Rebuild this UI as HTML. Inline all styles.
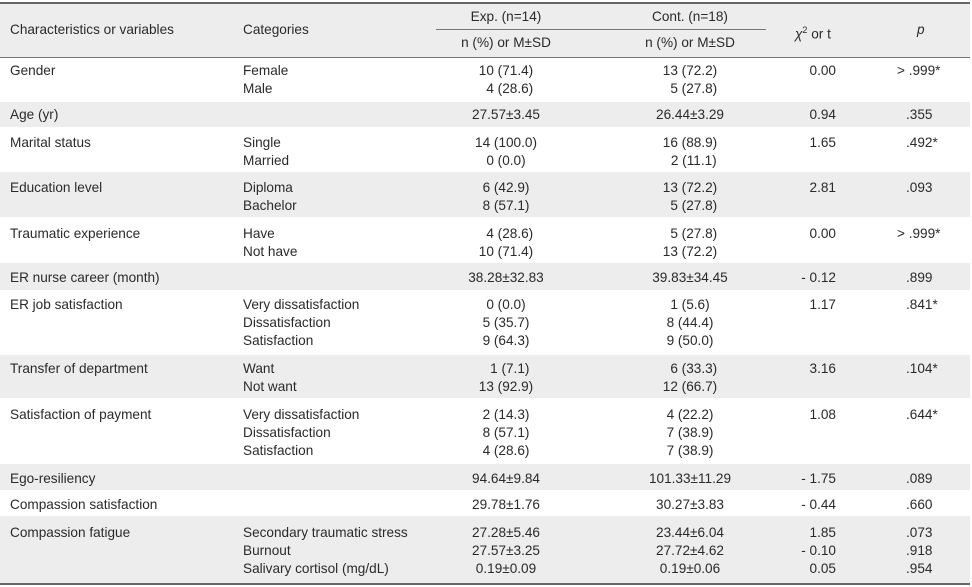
<!DOCTYPE html>
<html><head><meta charset="utf-8"><style>
body{margin:0;background:#fff;}
#t{position:relative;width:972px;height:587px;font-family:"Liberation Sans",sans-serif;font-size:13.6px;color:#2a2a2a;overflow:hidden;}
.bg{position:absolute;left:0;width:970px;background:#ededed;}
.ln{position:absolute;height:0;}
.c{position:absolute;line-height:18px;white-space:pre;}
.l1{left:10px}.l2{left:243px}
.e{left:456px;width:100px;text-align:center}
.n{left:640px;width:100px;text-align:center}
.x{left:760px;width:76px;text-align:right}
.p{left:906px}
</style></head><body>
<div id="t">
<div class="bg" style="top:3px;height:54px"></div>
<div class="bg" style="top:102px;height:25px"></div>
<div class="bg" style="top:172px;height:45px"></div>
<div class="bg" style="top:263px;height:27px"></div>
<div class="bg" style="top:355px;height:43px"></div>
<div class="bg" style="top:464px;height:26px"></div>
<div class="bg" style="top:516px;height:67px"></div>
<div class="ln" style="top:2px;left:0;width:970px;border-top:2px solid #666"></div>
<div class="ln" style="top:29px;left:436px;width:330px;border-top:1px solid #777"></div>
<div class="ln" style="top:57px;left:0;width:970px;border-top:1px solid #777"></div>
<div class="ln" style="top:583px;left:0;width:970px;border-top:2px solid #666"></div>

<div class="c l1" style="top:21px">Characteristics or variables</div>
<div class="c l2" style="top:21px">Categories</div>
<div class="c e" style="top:8px">Exp. (n=14)</div>
<div class="c n" style="top:8px">Cont. (n=18)</div>
<div class="c e" style="top:34px">n (%) or M±SD</div>
<div class="c n" style="top:34px">n (%) or M±SD</div>
<div class="c" style="top:21px;left:795px"><i>χ</i><sup style="font-size:9px">2</sup> or t</div>
<div class="c" style="top:21px;left:917px;font-style:italic">p</div>

<div class="c l1" style="top:62px">Gender</div>
<div class="c l2" style="top:62px">Female
Male</div>
<div class="c e" style="top:62px">10 (71.4)
  4 (28.6)</div>
<div class="c n" style="top:62px">13 (72.2)
  5 (27.8)</div>
<div class="c x" style="top:62px">0.00</div>
<div class="c p" style="top:62px;left:897px">&gt; .999*</div>

<div class="c l1" style="top:106px">Age (yr)</div>
<div class="c e" style="top:106px">27.57±3.45</div>
<div class="c n" style="top:106px">26.44±3.29</div>
<div class="c x" style="top:106px">0.94</div>
<div class="c p" style="top:106px">.355</div>

<div class="c l1" style="top:134px">Marital status</div>
<div class="c l2" style="top:134px">Single
Married</div>
<div class="c e" style="top:134px">14 (100.0)
0 (0.0)</div>
<div class="c n" style="top:134px">16 (88.9)
  2 (11.1)</div>
<div class="c x" style="top:134px">1.65</div>
<div class="c p" style="top:134px">.492*</div>

<div class="c l1" style="top:179px">Education level</div>
<div class="c l2" style="top:179px">Diploma
Bachelor</div>
<div class="c e" style="top:179px">6 (42.9)
8 (57.1)</div>
<div class="c n" style="top:179px">13 (72.2)
  5 (27.8)</div>
<div class="c x" style="top:179px">2.81</div>
<div class="c p" style="top:179px">.093</div>

<div class="c l1" style="top:225px">Traumatic experience</div>
<div class="c l2" style="top:225px">Have
Not have</div>
<div class="c e" style="top:225px">  4 (28.6)
10 (71.4)</div>
<div class="c n" style="top:225px">  5 (27.8)
13 (72.2)</div>
<div class="c x" style="top:225px">0.00</div>
<div class="c p" style="top:225px;left:897px">&gt; .999*</div>

<div class="c l1" style="top:269px">ER nurse career (month)</div>
<div class="c e" style="top:269px">38.28±32.83</div>
<div class="c n" style="top:269px">39.83±34.45</div>
<div class="c x" style="top:269px">- 0.12</div>
<div class="c p" style="top:269px">.899</div>

<div class="c l1" style="top:296px">ER job satisfaction</div>
<div class="c l2" style="top:296px">Very dissatisfaction
Dissatisfaction
Satisfaction</div>
<div class="c e" style="top:296px">0 (0.0)
5 (35.7)
9 (64.3)</div>
<div class="c n" style="top:296px">1 (5.6)
8 (44.4)
9 (50.0)</div>
<div class="c x" style="top:296px">1.17</div>
<div class="c p" style="top:296px">.841*</div>

<div class="c l1" style="top:360px">Transfer of department</div>
<div class="c l2" style="top:360px">Want
Not want</div>
<div class="c e" style="top:360px">  1 (7.1)
13 (92.9)</div>
<div class="c n" style="top:360px">  6 (33.3)
12 (66.7)</div>
<div class="c x" style="top:360px">3.16</div>
<div class="c p" style="top:360px">.104*</div>

<div class="c l1" style="top:406px">Satisfaction of payment</div>
<div class="c l2" style="top:406px">Very dissatisfaction
Dissatisfaction
Satisfaction</div>
<div class="c e" style="top:406px">2 (14.3)
8 (57.1)
4 (28.6)</div>
<div class="c n" style="top:406px">4 (22.2)
7 (38.9)
7 (38.9)</div>
<div class="c x" style="top:406px">1.08</div>
<div class="c p" style="top:406px">.644*</div>

<div class="c l1" style="top:470px">Ego-resiliency</div>
<div class="c e" style="top:470px">94.64±9.84</div>
<div class="c n" style="top:470px">101.33±11.29</div>
<div class="c x" style="top:470px">- 1.75</div>
<div class="c p" style="top:470px">.089</div>

<div class="c l1" style="top:496px">Compassion satisfaction</div>
<div class="c e" style="top:496px">29.78±1.76</div>
<div class="c n" style="top:496px">30.27±3.83</div>
<div class="c x" style="top:496px">- 0.44</div>
<div class="c p" style="top:496px">.660</div>

<div class="c l1" style="top:524px">Compassion fatigue</div>
<div class="c l2" style="top:524px">Secondary traumatic stress
Burnout
Salivary cortisol (mg/dL)</div>
<div class="c e" style="top:524px">27.28±5.46
27.57±3.25
0.19±0.09</div>
<div class="c n" style="top:524px">23.44±6.04
27.72±4.62
0.19±0.06</div>
<div class="c x" style="top:524px">1.85
- 0.10
0.05</div>
<div class="c p" style="top:524px">.073
.918
.954</div>
</div>
</body></html>
